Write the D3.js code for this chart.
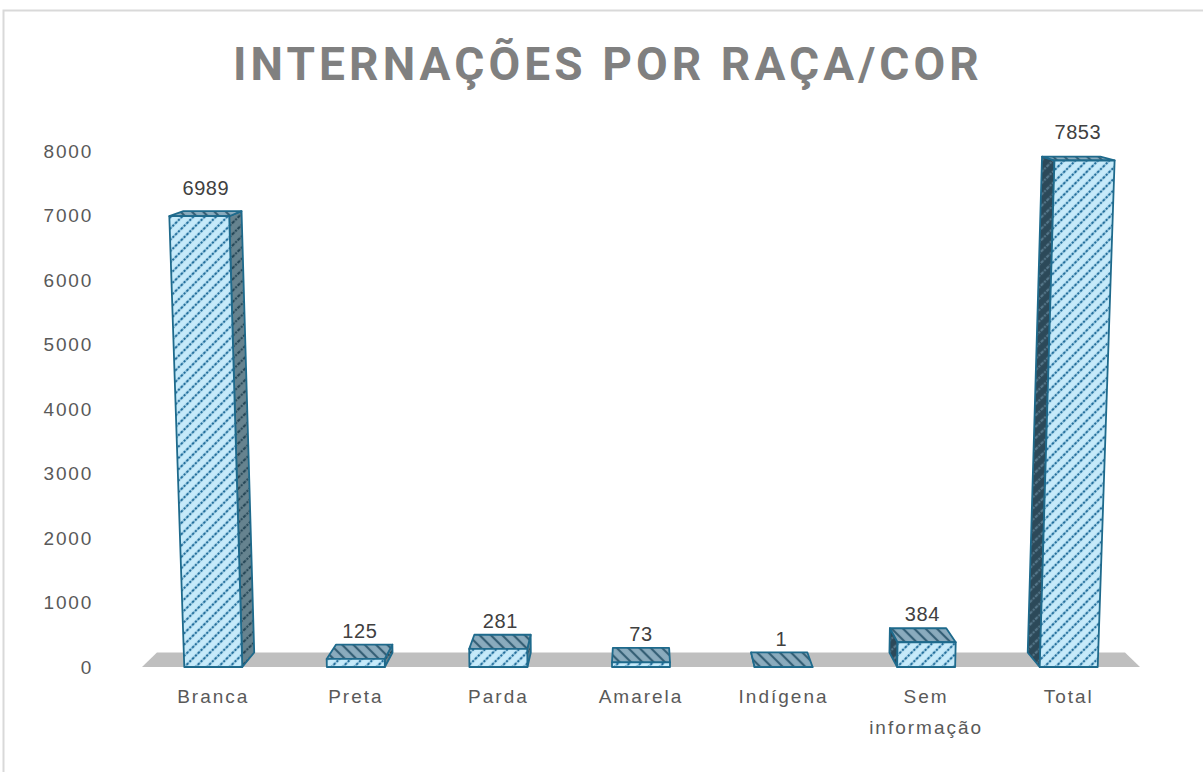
<!DOCTYPE html>
<html>
<head>
<meta charset="utf-8">
<script src="https://cdn.jsdelivr.net/npm/d3@7"></script>
<style>
  body { margin: 0; background: #fff; }
  svg { display: block; }
</style>
</head>
<body>
<svg width="1203" height="772"></svg>
<script>
const categories = ['Branca', 'Preta', 'Parda', 'Amarela', 'Indígena', 'Sem informação', 'Total'];
const values = [6989, 125, 281, 73, 1, 384, 7853];
const yTicks = [0, 1000, 2000, 3000, 4000, 5000, 6000, 7000, 8000];
const title = 'INTERNAÇÕES POR RAÇA/COR';

const centerX = 640;

const svg = d3.select('svg');

const xScale = d3.scaleBand(categories, [142, 1140]);
const yScale = d3.scaleLinear([0, 8000], [667, 151]);
const barWidth = 58;

// fake 3d: front plane spreads a little with height, back plane shrinks toward a vanishing point
function project(x, value, back) {
  const spread = 1 + 0.0000047 * value;
  let u = centerX + (x - centerX) * spread;
  let v = yScale(value);
  if (back) {
    u = centerX + (u - centerX) * 0.97;
    v = -23 + (v + 23) * 0.979;
  }
  return [u, v];
}

const toPath = (pts) => 'M' + pts.map((p) => p.join(',')).join('L') + 'Z';

// hatch patterns
const defs = svg.append('defs');
function hatch(id, bg, fg, angle, dash) {
  const p = defs.append('pattern')
    .attr('id', id)
    .attr('patternUnits', 'userSpaceOnUse')
    .attr('width', 8)
    .attr('height', 8)
    .attr('patternTransform', `rotate(${angle})`);
  p.append('rect').attr('width', 8).attr('height', 8).attr('fill', bg);
  p.append('line')
    .attr('x1', 2).attr('y1', 0).attr('x2', 2).attr('y2', 8)
    .attr('stroke', fg)
    .attr('stroke-width', 2.2)
    .attr('stroke-dasharray', dash);
}
hatch('front', '#c6eafa', '#236f9c', 45, '2.5 1.2');
hatch('top', '#8aabbd', '#355f75', -45, null);
hatch('right', '#66838f', '#264757', 45, '2 1.3');
hatch('left', '#2c4959', '#56778a', 45, '2 1.3');

const edge = '#1e6a8c';

// chart border
svg.append('rect')
  .attr('x', 3.5)
  .attr('y', 10.5)
  .attr('width', 1230)
  .attr('height', 800)
  .attr('fill', 'none')
  .attr('stroke', '#d9d9d9')
  .attr('stroke-width', 2);

// title
svg.append('text')
  .text(title)
  .attr('x', 608)
  .attr('y', 80)
  .attr('text-anchor', 'middle')
  .attr('fill', '#808080')
  .style('font-family', 'Roboto, sans-serif')
  .style('font-weight', 700)
  .style('font-size', '46px')
  .style('letter-spacing', '4.1px');

// y axis
const yAxis = d3.axisLeft(yScale)
  .tickValues(yTicks)
  .tickSize(0)
  .tickPadding(0)
  .tickFormat(d3.format('d'));

svg.append('g')
  .attr('transform', 'translate(93, 0)')
  .call(yAxis)
  .call((g) => g.select('.domain').remove())
  .selectAll('text')
    .attr('fill', '#595959')
    .style('font-family', '"Liberation Sans", Arial, sans-serif')
    .style('font-size', '19px')
    .style('letter-spacing', '1.8px');

// floor
const x0 = xScale.range()[0];
const x1 = xScale.range()[1];
svg.append('path')
  .attr('d', toPath([project(x0, 0, false), project(x1, 0, false), project(x1, 0, true), project(x0, 0, true)]))
  .attr('fill', '#bfbfbf');

// bars
const bars = svg.append('g');
categories.forEach((cat, i) => {
  const value = values[i];
  const cx = xScale(cat) + xScale.bandwidth() / 2;
  const l = cx - barWidth / 2;
  const r = cx + barWidth / 2;
  const g = bars.append('g');

  if (r < centerX) {
    g.append('path')
      .attr('d', toPath([project(r, 0, false), project(r, 0, true), project(r, value, true), project(r, value, false)]))
      .attr('fill', 'url(#right)')
      .attr('stroke', edge)
      .attr('stroke-width', 1.8)
      .attr('stroke-linejoin', 'round');
  } else if (l > centerX) {
    g.append('path')
      .attr('d', toPath([project(l, 0, false), project(l, 0, true), project(l, value, true), project(l, value, false)]))
      .attr('fill', 'url(#left)')
      .attr('stroke', edge)
      .attr('stroke-width', 1.8)
      .attr('stroke-linejoin', 'round');
  }

  g.append('path')
    .attr('d', toPath([project(l, value, false), project(r, value, false), project(r, value, true), project(l, value, true)]))
    .attr('fill', 'url(#top)')
    .attr('stroke', edge)
    .attr('stroke-width', 1.8)
    .attr('stroke-linejoin', 'round');

  g.append('path')
    .attr('d', toPath([project(l, 0, false), project(r, 0, false), project(r, value, false), project(l, value, false)]))
    .attr('fill', 'url(#front)')
    .attr('stroke', edge)
    .attr('stroke-width', 1.8)
    .attr('stroke-linejoin', 'round');

  // value label
  const front = project(cx, value, false);
  const backTop = project(cx, value, true);
  g.append('text')
    .text(value)
    .attr('x', (front[0] + backTop[0]) / 2)
    .attr('y', yScale(value) - 21)
    .attr('text-anchor', 'middle')
    .attr('fill', '#404040')
    .style('font-family', '"Liberation Sans", Arial, sans-serif')
    .style('font-size', '20px')
    .style('letter-spacing', '0.6px');
});

// category labels
const catLabels = svg.append('g');
categories.forEach((cat) => {
  const words = cat === 'Sem informação' ? ['Sem', 'informação'] : [cat];
  const cx = xScale(cat) + xScale.bandwidth() / 2;
  const t = catLabels.append('text')
    .attr('x', cx)
    .attr('y', 703)
    .attr('text-anchor', 'middle')
    .attr('fill', '#595959')
    .style('font-family', '"Liberation Sans", Arial, sans-serif')
    .style('font-size', '19px')
    .style('letter-spacing', '2px');
  words.forEach((w, j) => {
    t.append('tspan')
      .text(w)
      .attr('x', cx)
      .attr('dy', j === 0 ? 0 : 31);
  });
});
</script>
</body>
</html>
